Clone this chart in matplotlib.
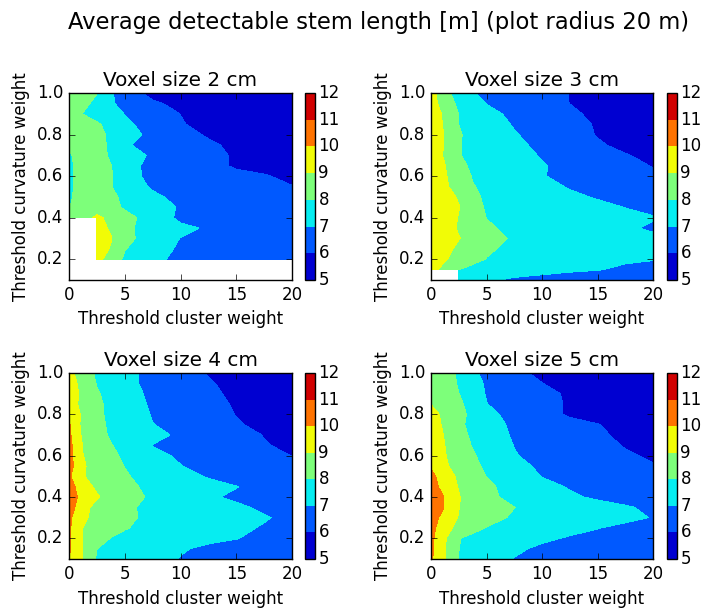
import numpy as np
import matplotlib
matplotlib.use("Agg")
import matplotlib.pyplot as plt

plt.style.use("classic")
plt.rcParams["figure.facecolor"] = "white"
plt.rcParams["savefig.facecolor"] = "white"
plt.rcParams["font.family"] = ["DejaVu Sans"]

nan = np.nan
cluster_weight = [0, 1.25, 2.5, 3.75, 5, 7.5, 10, 12.5, 15, 17.5, 20]
curvature_weight = [1.0, 0.95, 0.9, 0.85, 0.8, 0.75, 0.7, 0.65, 0.6, 0.55,
                    0.5, 0.45, 0.4, 0.35, 0.3, 0.25, 0.2, 0.15, 0.1]
levels = [5, 6, 7, 8, 9, 10, 11, 12]
voxel_sizes = [2, 3, 4, 5]

length_2cm = [
    [8.6, 8.3, 8.02, 7.1, 6.55, 5.7, 5.45, 5.35, 5.25, 5.2, 5.15],
    [8.4, 8.15, 7.85, 7.1, 6.75, 6.15, 5.75, 5.5, 5.35, 5.3, 5.2],
    [8.3, 7.98, 7.65, 7.3, 6.98, 6.5, 5.99, 5.7, 5.5, 5.35, 5.25],
    [8.5, 8.35, 8.12, 7.7, 7.2, 6.6, 6.05, 5.8, 5.55, 5.4, 5.3],
    [8.6, 8.45, 8.25, 7.85, 7.4, 6.75, 6.3, 5.9, 5.6, 5.45, 5.35],
    [8.15, 8.35, 8.3, 7.85, 7.05, 6.85, 6.5, 6.15, 5.8, 5.6, 5.45],
    [7.9, 8.35, 8.3, 7.9, 7.5, 6.85, 6.6, 6.25, 5.9, 5.65, 5.5],
    [7.85, 8.3, 8.35, 8.02, 7.4, 6.7, 6.5, 6.25, 5.9, 5.8, 5.65],
    [7.85, 8.3, 8.4, 8.12, 7.3, 6.8, 6.55, 6.4, 6.2, 6.05, 5.85],
    [7.85, 8.3, 8.35, 8.05, 7.45, 6.9, 6.6, 6.45, 6.3, 6.15, 6.02],
    [7.9, 8.3, 8.4, 8.2, 7.8, 7.15, 6.8, 6.6, 6.45, 6.35, 6.25],
    [7.97, 8.35, 8.55, 8.25, 7.9, 7.25, 6.95, 6.7, 6.5, 6.4, 6.3],
    [8.3, 8.5, 9.2, 8.75, 8.3, 7.6, 6.8, 6.7, 6.5, 6.4, 6.3],
    [nan, nan, 9.3, 8.9, 8.2, 7.6, 7.2, 6.9, 6.65, 6.5, 6.4],
    [nan, nan, 9.4, 9.05, 8.3, 7.5, 6.98, 6.8, 6.6, 6.5, 6.4],
    [nan, nan, 9.35, 8.95, 8.05, 7.3, 6.9, 6.7, 6.55, 6.45, 6.4],
    [nan, nan, 9.3, 8.6, 7.85, 7.15, 6.85, 6.7, 6.5, 6.4, 6.35],
    [nan, nan, nan, nan, nan, nan, nan, nan, nan, nan, nan],
    [nan, nan, nan, nan, nan, nan, nan, nan, nan, nan, nan],
]

length_3cm = [
    [9.35, 8.35, 7.5, 7.05, 6.85, 6.6, 6.3, 5.98, 5.6, 5.4, 5.3],
    [9.4, 8.55, 7.8, 7.3, 6.98, 6.7, 6.4, 5.99, 5.65, 5.45, 5.35],
    [9.45, 8.85, 7.98, 7.55, 7.2, 6.85, 6.55, 6.2, 5.75, 5.5, 5.4],
    [9.45, 8.9, 8.0, 7.6, 7.3, 6.95, 6.65, 6.35, 5.9, 5.6, 5.45],
    [9.5, 8.95, 8.1, 7.7, 7.4, 7.05, 6.75, 6.4, 5.95, 5.65, 5.5],
    [9.5, 8.95, 8.05, 7.75, 7.5, 7.15, 6.85, 6.5, 6.1, 5.8, 5.6],
    [9.5, 8.9, 8.05, 7.8, 7.6, 7.25, 6.95, 6.6, 6.3, 6.05, 5.8],
    [9.5, 9.02, 8.15, 7.9, 7.65, 7.35, 7.05, 6.8, 6.45, 6.2, 5.97],
    [9.55, 9.1, 8.45, 7.95, 7.75, 7.4, 7.03, 6.85, 6.55, 6.35, 6.15],
    [9.6, 9.15, 8.6, 8.05, 7.8, 7.5, 7.2, 6.95, 6.65, 6.45, 6.3],
    [9.65, 9.4, 8.9, 8.2, 7.85, 7.55, 7.35, 7.12, 6.95, 6.75, 6.6],
    [9.7, 9.5, 9.05, 8.35, 7.9, 7.6, 7.45, 7.3, 7.15, 6.99, 6.8],
    [9.7, 9.5, 8.95, 8.5, 7.98, 7.7, 7.5, 7.35, 7.25, 7.15, 7.05],
    [9.7, 9.45, 8.9, 8.55, 8.15, 7.75, 7.5, 7.35, 7.25, 7.1, 6.9],
    [9.7, 9.5, 9.05, 8.6, 8.3, 7.9, 7.6, 7.45, 7.35, 7.25, 7.15],
    [9.65, 9.35, 8.75, 8.45, 8.15, 7.75, 7.5, 7.35, 7.25, 7.15, 7.1],
    [9.55, 9.1, 8.6, 8.3, 7.97, 7.6, 7.35, 7.25, 7.15, 7.08, 7.03],
    [9.3, 8.7, 8.02, 7.7, 7.5, 7.3, 7.2, 7.1, 7.03, 6.9, 6.8],
    [nan, nan, 7.5, 7.3, 7.1, 6.9, 6.8, 6.7, 6.6, 6.5, 6.4],
]

length_4cm = [
    [9.3, 8.5, 7.85, 7.55, 7.25, 6.75, 6.35, 5.95, 5.6, 5.45, 5.35],
    [9.4, 8.7, 7.95, 7.5, 7.1, 6.9, 6.5, 6.1, 5.7, 5.5, 5.4],
    [9.45, 8.8, 8.1, 7.7, 7.3, 6.85, 6.6, 6.2, 5.8, 5.55, 5.45],
    [9.5, 8.7, 8.2, 7.75, 7.35, 6.9, 6.65, 6.3, 5.9, 5.6, 5.5],
    [10.02, 8.75, 8.2, 7.8, 7.45, 6.95, 6.7, 6.4, 5.97, 5.65, 5.55],
    [10.1, 8.7, 8.25, 7.85, 7.55, 7.02, 6.8, 6.5, 6.1, 5.75, 5.6],
    [10.2, 8.8, 8.3, 7.9, 7.6, 7.25, 6.85, 6.6, 6.35, 5.97, 5.75],
    [10.3, 8.95, 8.5, 8.05, 7.7, 6.98, 6.9, 6.65, 6.4, 6.05, 5.85],
    [10.35, 9.02, 8.55, 8.2, 7.85, 7.2, 6.9, 6.7, 6.45, 6.2, 5.99],
    [10.4, 9.1, 8.65, 8.3, 7.98, 7.4, 7.02, 6.8, 6.6, 6.4, 6.2],
    [10.15, 9.05, 8.7, 8.4, 8.1, 7.6, 7.2, 6.95, 6.7, 6.5, 6.3],
    [10.5, 9.35, 8.85, 8.5, 8.25, 7.75, 7.4, 7.2, 7.02, 6.8, 6.6],
    [10.6, 9.6, 9.1, 8.65, 8.35, 7.86, 7.3, 7.08, 6.9, 6.75, 6.6],
    [10.55, 9.25, 8.75, 8.5, 8.15, 7.8, 7.4, 7.25, 7.1, 6.9, 6.75],
    [10.2, 9.15, 8.75, 8.5, 8.25, 7.7, 7.45, 7.3, 7.2, 7.05, 6.85],
    [10.15, 9.0, 8.6, 8.35, 8.08, 7.6, 7.35, 7.25, 7.12, 6.95, 6.8],
    [10.1, 8.95, 8.45, 7.97, 7.7, 7.4, 7.25, 7.12, 7.02, 6.85, 6.7],
    [10.1, 8.95, 8.02, 7.6, 7.4, 7.2, 7.05, 6.9, 6.8, 6.7, 6.6],
    [10.05, 8.95, 7.9, 7.55, 7.35, 7.15, 6.98, 6.85, 6.75, 6.65, 6.55],
]

length_5cm = [
    [8.8, 8.45, 7.85, 7.2, 6.75, 6.3, 5.75, 5.45, 5.3, 5.25, 5.2],
    [8.85, 8.5, 7.9, 7.3, 6.9, 6.4, 6.02, 5.6, 5.35, 5.3, 5.25],
    [8.9, 8.6, 8.02, 7.4, 6.95, 6.5, 6.2, 5.9, 5.5, 5.35, 5.3],
    [8.98, 8.7, 8.2, 7.6, 7.02, 6.6, 6.15, 5.95, 5.6, 5.4, 5.35],
    [9.3, 8.8, 8.3, 7.75, 7.25, 6.7, 6.3, 5.9, 5.7, 5.5, 5.4],
    [9.4, 8.85, 8.15, 7.8, 7.35, 6.85, 6.5, 6.25, 6.03, 5.75, 5.55],
    [9.45, 8.95, 8.3, 7.85, 7.45, 6.9, 6.6, 6.4, 6.12, 5.85, 5.65],
    [9.5, 9.0, 8.4, 7.95, 7.55, 6.98, 6.7, 6.5, 6.25, 5.95, 5.75],
    [9.6, 9.05, 8.5, 8.1, 7.7, 7.05, 6.75, 6.55, 6.35, 6.1, 5.9],
    [9.9, 9.15, 8.6, 8.2, 7.85, 7.25, 6.85, 6.65, 6.45, 6.25, 6.05],
    [10.3, 9.4, 8.85, 8.4, 7.98, 7.4, 6.98, 6.75, 6.55, 6.35, 6.15],
    [10.5, 9.55, 8.95, 8.55, 8.2, 7.6, 7.2, 6.95, 6.7, 6.5, 6.3],
    [10.7, 9.95, 9.05, 8.6, 8.3, 7.65, 7.3, 7.1, 6.9, 6.7, 6.5],
    [10.75, 9.95, 9.02, 8.7, 8.45, 8.02, 7.6, 7.4, 7.25, 7.08, 6.85],
    [10.5, 9.6, 8.95, 8.6, 8.4, 7.85, 7.5, 7.35, 7.25, 7.15, 6.97],
    [10.35, 9.3, 8.75, 8.35, 7.95, 7.5, 7.3, 7.15, 7.02, 6.85, 6.7],
    [10.25, 9.1, 8.05, 7.7, 7.5, 7.3, 7.1, 6.95, 6.85, 6.75, 6.65],
    [10.2, 9.05, 8.02, 7.6, 7.35, 7.1, 6.9, 6.8, 6.7, 6.6, 6.55],
    [10.15, 9.02, 7.95, 7.5, 7.25, 6.98, 6.8, 6.7, 6.6, 6.55, 6.5],
]

panels = [length_2cm, length_3cm, length_4cm, length_5cm]

fig = plt.figure(figsize=(7.03, 6.08), dpi=100)
W, H = 703.0, 608.0
# axes boxes in pixels: (left, top, right, bottom)
boxes = [(69, 93, 292, 280), (431, 93, 653, 280),
         (69, 373, 292, 559), (431, 373, 653, 559)]
cbar_dx = 236  # distance from axes left to colorbar left in pixels

X = np.array(cluster_weight)
Y = np.array(curvature_weight)[::-1]
for data, vs, (l, t, r, b) in zip(panels, voxel_sizes, boxes):
    ax = fig.add_axes([l / W, 1 - b / H, (r - l) / W, (b - t) / H])
    Z = np.ma.masked_invalid(np.array(data)[::-1])
    cs = ax.contourf(X, Y, Z, levels=levels, cmap="jet", corner_mask=False)
    ax.set_xlim(0, 20)
    ax.set_ylim(0.1, 1.0)
    ax.set_xticks([0, 5, 10, 15, 20])
    ax.set_yticks([0.2, 0.4, 0.6, 0.8, 1.0])
    ax.set_title(f"Voxel size {vs} cm", fontsize=14.4)
    ax.set_xlabel("Threshold cluster weight", fontsize=12)
    ax.set_ylabel("Threshold curvature weight", fontsize=12)
    ax.tick_params(labelsize=12)
    cax = fig.add_axes([(l + cbar_dx) / W, 1 - b / H, 10 / W, (b - t) / H])
    cb = fig.colorbar(cs, cax=cax, ticks=levels)
    cb.ax.tick_params(labelsize=12, length=0, pad=2.5)

fig.text(0.538, 0.963, "Average detectable stem length [m] (plot radius 20 m)",
         ha="center", va="center", fontsize=16.3)

fig.savefig("out.png", dpi=100)
